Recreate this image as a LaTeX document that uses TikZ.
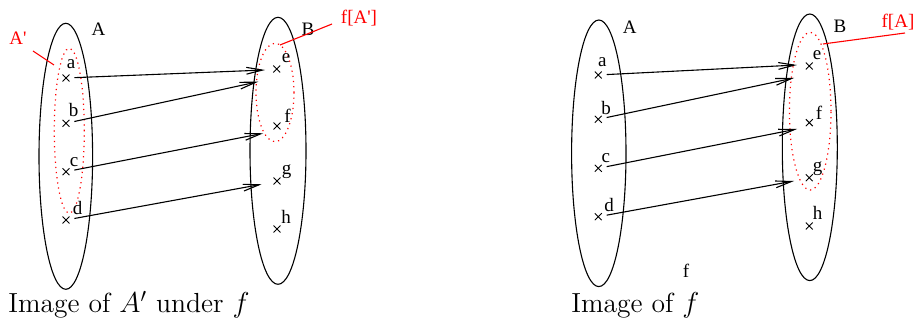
\documentclass[tikz,border=0pt]{standalone}
\usepackage{fontspec}
\usepackage{tikz}
\usetikzlibrary{arrows.meta, shapes.geometric, shapes.misc}
\newfontfamily\figfont{Liberation Serif}

\begin{document}
\begin{tikzpicture}[
  x=0.5pt, y=-0.5pt,
  setbox/.style={draw, ellipse, line width=0.55pt, inner sep=0pt},
  subbox/.style={draw=red, dotted, ellipse, line width=0.6pt, inner sep=0pt},
  elem/.style={draw, cross out, minimum size=3pt, inner sep=0pt, line width=0.45pt},
  lbl/.style={font=\figfont\fontsize{9.5}{11}\selectfont, anchor=base, inner sep=0pt},
  rlbl/.style={lbl, text=red},
  lead/.style={red, line width=0.55pt},
  arr/.style={-{Straight Barb[length=8pt, width=3.4pt]}, line width=0.55pt, shorten <=2.5pt},
  captxt/.style={font=\fontsize{13.8}{16}\selectfont, anchor=base west, inner sep=0pt},
]
\useasboundingbox (0,0) rectangle (915,320);

% left: image of A' under f
\node[setbox, minimum width=26.8pt, minimum height=133pt] (setA) at (65.8,156.3) {};
\node[setbox, minimum width=28pt, minimum height=133.5pt] (setB) at (278,150.8) {};
\node[subbox, minimum width=15pt, minimum height=82.5pt] (subA) at (69.3,130.8) {};
\node[subbox, minimum width=19pt, minimum height=49.2pt] (imgA) at (275,92.5) {};

\node[elem] (a) at (66,78) {};
\node[elem] (b) at (66,123.3) {};
\node[elem] (c) at (66,171.7) {};
\node[elem] (d) at (66,220) {};
\node[elem] (e) at (276.7,69) {};
\node[elem] (f) at (277,126) {};
\node[elem] (g) at (277,181) {};
\node[elem] (h) at (277,229) {};

\node[lbl] (la) at (71,69) {a};
\node[lbl] (lb) at (73.5,117) {b};
\node[lbl] (lc) at (74,167) {c};
\node[lbl] (ld) at (77.7,215) {d};
\node[lbl] (le) at (286,63) {e};
\node[lbl] (lf) at (287.5,123) {f};
\node[lbl] (lg) at (286.5,175) {g};
\node[lbl] (lh) at (286,224) {h};

\node[lbl] (nameA) at (98.5,36) {A};
\node[lbl] (nameB) at (308,36) {B};
\node[rlbl] (nameSub) at (18,45) {A'};
\node[rlbl] (nameImg) at (359,24) {f[A']};

\coordinate (subA0) at (33,51);
\coordinate (subA1) at (54,65);
\coordinate (imgA0) at (280,45);
\coordinate (imgA1) at (332,24);
\draw[lead] (subA0) -- (subA1);
\draw[lead] (imgA0) -- (imgA1);

\coordinate (ea) at (265,70);
\coordinate (eb) at (258.3,81.7);
\coordinate (ec) at (263.3,133.3);
\coordinate (ed) at (261.7,184.3);
\draw[arr] (a) -- (ea);
\draw[arr] (b) -- (eb);
\draw[arr] (c) -- (ec);
\draw[arr] (d) -- (ed);

\node[captxt] (capL) at (8,313) {Image of $A'$ under $f$};

% right: image of f
\node[setbox, minimum width=27.2pt, minimum height=133.3pt] (setAr) at (598.8,153.3) {};
\node[setbox, minimum width=27.5pt, minimum height=133.3pt] (setBr) at (809.8,147.3) {};
\node[subbox, minimum width=20.8pt, minimum height=78.8pt] (imgAr) at (810.2,111.2) {};

\node[elem] (ra) at (598.3,75) {};
\node[elem] (rb) at (598.3,119.3) {};
\node[elem] (rc) at (598.3,168.3) {};
\node[elem] (rd) at (598.3,216.7) {};
\node[elem] (re) at (809.3,66) {};
\node[elem] (rf) at (809.3,122.7) {};
\node[elem] (rg) at (809.3,177.7) {};
\node[elem] (rh) at (809.3,226) {};

\node[lbl] (lra) at (602.3,66.7) {a};
\node[lbl] (lrb) at (606,115) {b};
\node[lbl] (lrc) at (605.8,163) {c};
\node[lbl] (lrd) at (609,211.7) {d};
\node[lbl] (lre) at (817,60) {e};
\node[lbl] (lrf) at (819,120) {f};
\node[lbl] (lrg) at (817.7,172) {g};
\node[lbl] (lrh) at (817.7,220) {h};

\node[lbl] (nameAr) at (629.7,33.3) {A};
\node[lbl] (nameBr) at (840,32.7) {B};
\node[rlbl] (nameImgr) at (898,27.5) {f[A]};
\node[lbl] (namef) at (686,277.5) {f};

\coordinate (imgAr0) at (823,44);
\coordinate (imgAr1) at (905,33);
\draw[lead] (imgAr0) -- (imgAr1);

\coordinate (rea) at (797,65);
\coordinate (reb) at (794,78);
\coordinate (rec) at (797,129);
\coordinate (red) at (794,181);
\draw[arr] (ra) -- (rea);
\draw[arr] (rb) -- (reb);
\draw[arr] (rc) -- (rec);
\draw[arr] (rd) -- (red);

\node[captxt] (capR) at (571,313) {Image of $f$};

\end{tikzpicture}
\end{document}
